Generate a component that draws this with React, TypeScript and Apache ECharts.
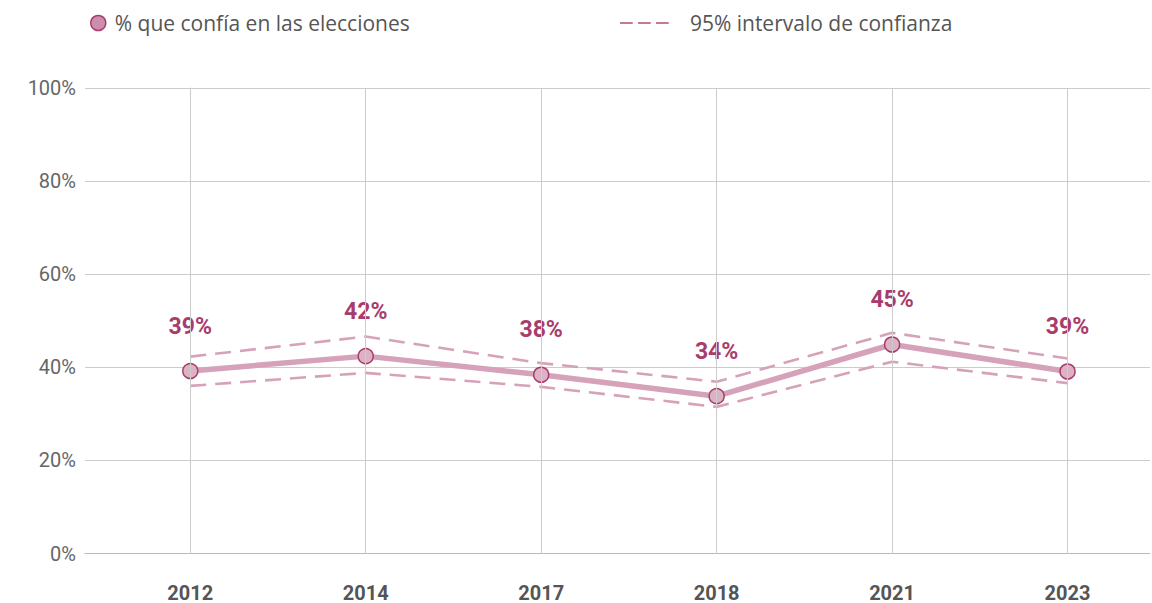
import React, { useEffect, useRef } from "react";
import * as echarts from "echarts";

const years = ["2012", "2014", "2017", "2018", "2021", "2023"];
const confia = [39.2, 42.4, 38.4, 33.8, 44.9, 39.1];
const upper = [42.3, 46.6, 40.9, 36.9, 47.4, 41.9];
const lower = [36.0, 38.8, 35.8, 31.5, 41.2, 36.6];
const yTicks = [0, 20, 40, 60, 80, 100];

const mainName = "% que confía en las elecciones";
const ciName = "95% intervalo de confianza";

const PINK_LINE = "#d5a2b9";
const DARK = "#a83d6d";

export default function App() {
  const ref = useRef<HTMLDivElement>(null);
  useEffect(() => {
    if (!ref.current) return;
    const chart = echarts.init(ref.current, null, { renderer: "svg" });
    const idx = years.map((_, i) => i);
    const option: any = {
      animation: false,
      legend: [
        {
          left: 85,
          top: 6,
          data: [{ name: mainName, icon: "circle" }],
          itemWidth: 15,
          itemHeight: 15,
          itemStyle: { color: "#cc8eaa", borderColor: DARK, borderWidth: 1.5 },
          textStyle: { color: "#555", fontSize: 21, lineHeight: 24, fontFamily: "Open Sans", padding: [0, 0, 0, 4] },
          selectedMode: false,
        },
        {
          left: 615,
          top: 6,
          data: [{ name: ciName, icon: "path://M0,0H17V2H0Z M24,0H41V2H24Z M48,0H65V2H48Z" }],
          itemWidth: 65,
          itemHeight: 1.5,
          itemStyle: { color: "#b04d7a" },
          lineStyle: { opacity: 0 },
          textStyle: { color: "#555", fontSize: 21, lineHeight: 24, fontFamily: "Open Sans", padding: [0, 0, 0, 8] },
          selectedMode: false,
        },
      ],
      grid: { left: 85, right: 2, top: 88, bottom: 49.5, containLabel: false },
      xAxis: {
        type: "value",
        min: -0.6,
        max: 5.47,
        splitLine: { show: false },
        axisTick: { show: false },
        axisLine: { show: true, lineStyle: { color: "#bbbbbb", width: 1 } },
        axisLabel: {
          customValues: idx,
          formatter: (v: number) => (Number.isInteger(v) && years[v] ? years[v] : ""),
          color: "#555",
          fontSize: 20,
          lineHeight: 20,
          fontWeight: "bold",
          fontFamily: "Roboto",
          margin: 29,
        },
      },
      yAxis: {
        type: "value",
        min: 0,
        max: 100,
        interval: 20,
        axisLine: { show: true, lineStyle: { color: "#cccccc" } },
        axisTick: { show: false },
        splitLine: { show: true, lineStyle: { color: "#cccccc", width: 1 } },
        axisLabel: {
          formatter: (v: number) => (yTicks.includes(v) ? v + "%" : ""),
          color: "#666",
          fontSize: 20,
          fontFamily: "Roboto",
          margin: 9,
        },
      },
      series: [
        {
          type: "line",
          name: "grid-v",
          data: [],
          z: 0,
          silent: true,
          markLine: {
            silent: true,
            symbol: "none",
            label: { show: false },
            lineStyle: { color: "#cccccc", width: 1, type: "solid" },
            data: idx.map((i) => ({ xAxis: i })),
          },
        },
        {
          type: "line",
          name: ciName,
          data: idx.map((i) => [i, upper[i]]),
          symbol: "none",
          z: 2,
          itemStyle: { color: "#b04d7a" },
          lineStyle: { color: PINK_LINE, width: 2.6, type: [16, 9] },
        },
        {
          type: "line",
          name: ciName,
          data: idx.map((i) => [i, lower[i]]),
          symbol: "none",
          z: 2,
          itemStyle: { color: "#b04d7a" },
          lineStyle: { color: PINK_LINE, width: 2.6, type: [16, 9] },
        },
        {
          type: "line",
          name: mainName,
          data: idx.map((i) => [i, confia[i]]),
          z: 3,
          symbol: "circle",
          symbolSize: 15,
          lineStyle: { color: PINK_LINE, width: 5.5 },
          itemStyle: { color: "#dcb3c5", borderColor: DARK, borderWidth: 1.5 },
          label: {
            show: true,
            position: "top",
            distance: 25,
            formatter: (p: any) => Math.round(p.value[1]) + "%",
            color: DARK,
            fontSize: 23,
            fontWeight: "bold",
            fontFamily: "Roboto",
          },
        },
      ],
    };
    chart.setOption(option);
    return () => chart.dispose();
  }, []);
  return <div ref={ref} style={{ width: 1152, height: 603, position: "absolute", left: 0, top: 0 }} />;
}
